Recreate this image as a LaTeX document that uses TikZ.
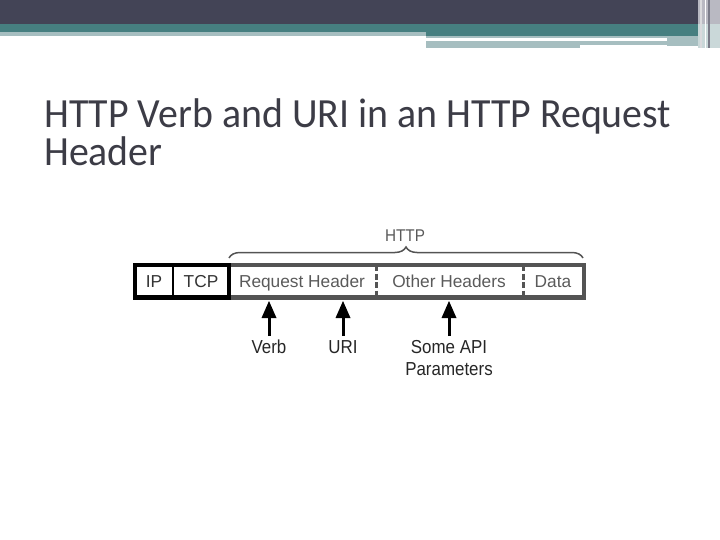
\documentclass[tikz,border=0pt]{standalone}
\usepackage{fontspec}
\setmainfont{Liberation Sans}
\newfontfamily\titlefont[FakeStretch=0.96]{Carlito}
\newfontfamily\diagfont[FakeStretch=0.9]{Liberation Sans}
\usetikzlibrary{decorations.pathreplacing}

\definecolor{slatebar}{HTML}{434456}
\definecolor{tealbar}{HTML}{467F80}
\definecolor{palebar}{HTML}{A6BEC0}
\definecolor{edgegray}{HTML}{B9B9C2}
\definecolor{titlegray}{HTML}{3C3C46}
\definecolor{boxgray}{HTML}{545454}
\definecolor{cellink}{HTML}{5A5A5A}

\begin{document}
\begin{tikzpicture}[x=1pt,y=-1pt,
	cell/.style={font=\fontsize{17.3}{21}\selectfont, text=cellink, anchor=base},
	pointer/.style={font=\diagfont\fontsize{18.8}{22.5}\selectfont, text=black!85, align=center, anchor=north},
	heading/.style={font=\titlefont\fontsize{41.5}{38}\selectfont, text=titlegray, align=left, anchor=north west}]
			\tikzstyle{every node}+=[inner sep=0pt]
			\useasboundingbox (0,0) rectangle (720,540);
			% slide header bands
			\fill [slatebar] (0,0) rectangle (720,24);
			\fill [tealbar] (0,24) rectangle (720,36);
			\fill [palebar] (0,32) rectangle (426,36);
			\fill [palebar] (426,36) rectangle (667,38);
			\fill [palebar] (426,41.5) rectangle (580,48);
			\fill [palebar] (580,41.5) rectangle (667,45.5);
			\fill [palebar] (667,36) rectangle (698,46);
			\fill [edgegray] (698,0) rectangle (720,24);
			\fill [palebar!60] (698,24) rectangle (720,48);
			\draw [white!80!slatebar, line width=1.5] (701,0) -- (701,48);
			\draw [slatebar!70, line width=1.5] (709,0) -- (709,48);
			\draw [white, line width=1] (705,0) -- (705,48);
			% title
			\node [heading] (title) at (44,98.5) {HTTP Verb and URI in an HTTP Request\\Header};
			% packet
			\draw [boxgray, line width=3.5] (229,265) rectangle (584,297.5);
			\draw [boxgray, line width=5] (229,297.5) -- (586,297.5);
			\draw [boxgray, line width=3, dash pattern=on 6 off 2.5] (376,265) -- (376,297);
			\draw [boxgray, line width=3, dash pattern=on 6 off 2.5] (523,265) -- (523,297);
			\draw [black, line width=3.5] (135,265) rectangle (229,297.5);
			\draw [black, line width=5] (133.25,297.5) -- (230.75,297.5);
			\draw [black, line width=2.5] (173,265) -- (173,297);
			\node [cell, text=black!80] (ip) at (154,287) {IP};
			\node [cell, text=black!80] (tcp) at (201,287) {TCP};
			\node [cell] (request) at (302,287) {Request Header};
			\node [cell] (other) at (449,287) {Other Headers};
			\node [cell] (data) at (553,287) {Data};
			% brace over the HTTP part
			\draw [boxgray, line width=1.5, decorate, decoration={brace, amplitude=11pt}] (229,258) -- (583,258);
			\node [cell, font=\diagfont\fontsize{17}{20}\selectfont] (http) at (405,241) {HTTP};
			% pointers
			\coordinate (verbtip) at (269,301);
			\coordinate (uritip) at (343,301);
			\coordinate (paramtip) at (449,301);
			\node [pointer] (verb) at (269,340) {Verb};
			\node [pointer] (uri) at (343,340) {URI};
			\node [pointer] (params) at (449,340) {Some API\\Parameters};
			\draw [black, line width=3] ([yshift=4pt]verb.north) -- ([yshift=-12pt]verbtip);
			\fill [black] (verbtip) -- ++(-7.5,17) -- ++(15,0) -- cycle;
			\draw [black, line width=3] ([yshift=4pt]uri.north) -- ([yshift=-12pt]uritip);
			\fill [black] (uritip) -- ++(-7.5,17) -- ++(15,0) -- cycle;
			\draw [black, line width=3] ([yshift=4pt]params.north) -- ([yshift=-12pt]paramtip);
			\fill [black] (paramtip) -- ++(-7.5,17) -- ++(15,0) -- cycle;
		\end{tikzpicture}
\end{document}
